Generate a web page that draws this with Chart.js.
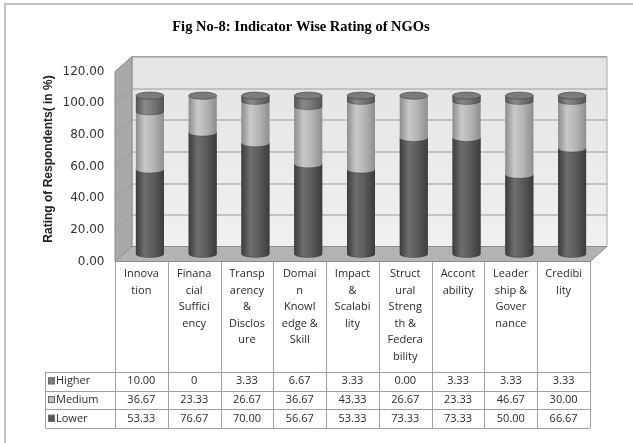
<!DOCTYPE html>
<html>
<head>
<meta charset="utf-8">
<script src="https://cdn.jsdelivr.net/npm/chart.js@4.4.1/dist/chart.umd.min.js"></script>
<style>
  html, body { margin: 0; padding: 0; background: #fff; }
  #wrap { width: 633px; height: 443px; }
</style>
</head>
<body>
<div id="wrap"><canvas id="chart" width="633" height="443"></canvas></div>
<script>
// data
const categories = [
  ["Innova", "tion"],
  ["Finana", "cial", "Suffici", "ency"],
  ["Transp", "arency", "&", "Disclos", "ure"],
  ["Domai", "n", "Knowl", "edge &", "Skill"],
  ["Impact", "&", "Scalabi", "lity"],
  ["Struct", "ural", "Streng", "th &", "Federa", "bility"],
  ["Accont", "ability"],
  ["Leader", "ship &", "Gover", "nance"],
  ["Credibi", "lity"]
];
const higher = ["10.00", "0", "3.33", "6.67", "3.33", "0.00", "3.33", "3.33", "3.33"];
const medium = ["36.67", "23.33", "26.67", "36.67", "43.33", "26.67", "23.33", "46.67", "30.00"];
const lower  = ["53.33", "76.67", "70.00", "56.67", "53.33", "73.33", "73.33", "50.00", "66.67"];
const yTicks = [0, 20, 40, 60, 80, 100, 120];

const title = "Fig No-8: Indicator Wise Rating of NGOs";
const yTitle = "Rating of Respondents( in %)";

// half depth of the 3d box
const DX = 8.5, DY = 7.5, RY = 3.5;

const colors = {
  Lower:  { solid: "#5a5a5a", edge: "#3c3c3c", hi: "#6e6e6e", key: "#555555" },
  Medium: { solid: "#b3b3b3", edge: "#8e8e8e", hi: "#c8c8c8", key: "#c0c0c0" },
  Higher: { solid: "#747474", edge: "#545454", hi: "#8a8a8a", key: "#808080" }
};

function cylFill(ctx, x, w, c) {
  const g = ctx.createLinearGradient(x - w / 2, 0, x + w / 2, 0);
  g.addColorStop(0, c.edge);
  g.addColorStop(0.32, c.hi);
  g.addColorStop(0.65, c.solid);
  g.addColorStop(1, c.edge);
  return g;
}

function poly(ctx, pts, fill, stroke) {
  ctx.beginPath();
  pts.forEach((p, i) => i ? ctx.lineTo(p[0], p[1]) : ctx.moveTo(p[0], p[1]));
  ctx.closePath();
  if (fill) { ctx.fillStyle = fill; ctx.fill(); }
  if (stroke) { ctx.strokeStyle = stroke; ctx.stroke(); }
}

const boxPlugin = {
  id: "box3d",
  beforeDraw(chart) {
    const ctx = chart.ctx;
    ctx.save();
    ctx.strokeStyle = "#c4c4c4";
    ctx.lineWidth = 2;
    ctx.strokeRect(5, 4, 700, 500);
    ctx.fillStyle = "#000";
    ctx.font = "bold 14.5px 'Liberation Serif'";
    ctx.textAlign = "center";
    ctx.textBaseline = "middle";
    ctx.fillText(title, 301, 27);
    ctx.restore();
  },
  beforeDatasetsDraw(chart) {
    const { ctx, chartArea: a, scales: { y } } = chart;
    const y0 = y.getPixelForValue(0), yT = y.getPixelForValue(120);
    ctx.save();
    ctx.lineWidth = 1;
    // back wall
    const wg = ctx.createLinearGradient(0, yT - DY, 0, y0 - DY);
    wg.addColorStop(0, "#e4e4e4");
    wg.addColorStop(1, "#f0f0f0");
    poly(ctx, [[a.left + DX, yT - DY], [a.right + DX, yT - DY], [a.right + DX, y0 - DY], [a.left + DX, y0 - DY]], wg, "#a8a8a8");
    // side wall
    poly(ctx, [[a.left - DX, yT + DY], [a.left + DX, yT - DY], [a.left + DX, y0 - DY], [a.left - DX, y0 + DY]], "#a9a9a9", "#8c8c8c");
    // floor
    poly(ctx, [[a.left - DX, y0 + DY], [a.left + DX, y0 - DY], [a.right + DX, y0 - DY], [a.right - DX, y0 + DY]], "#b3b3b3", "#8c8c8c");
    // grid lines
    ctx.strokeStyle = "#9a9a9a";
    yTicks.forEach(v => {
      if (v === 0) return;
      const p = Math.round(y.getPixelForValue(v)) + 0.5;
      ctx.beginPath();
      ctx.moveTo(a.left - DX, p + DY);
      ctx.lineTo(a.left + DX, p - DY);
      ctx.lineTo(a.right + DX, p - DY);
      ctx.stroke();
    });
    ctx.restore();
  },
  afterDatasetsDraw(chart) {
    const ctx = chart.ctx;
    const names = ["Lower", "Medium", "Higher"];
    ctx.save();
    for (let j = 0; j < categories.length; j++) {
      names.forEach((name, d) => {
        const el = chart.getDatasetMeta(d).data[j];
        const x = el.x, w = el.width, top = el.y, base = el.base;
        if (Math.abs(base - top) < 0.5) return;
        ctx.beginPath();
        ctx.moveTo(x - w / 2, top);
        ctx.lineTo(x - w / 2, base);
        ctx.ellipse(x, base, w / 2, RY, 0, Math.PI, 0, true);
        ctx.lineTo(x + w / 2, top);
        ctx.closePath();
        ctx.fillStyle = cylFill(ctx, x, w, colors[name]);
        ctx.fill();
        ctx.beginPath();
        ctx.ellipse(x, base, w / 2, RY, 0, Math.PI, 0, true);
        ctx.strokeStyle = "rgba(0,0,0,0.3)";
        ctx.lineWidth = 0.8;
        ctx.stroke();
      });
      // cap
      const el = chart.getDatasetMeta(2).data[j];
      ctx.beginPath();
      ctx.ellipse(el.x, el.y, el.width / 2, RY, 0, 0, Math.PI * 2);
      ctx.fillStyle = "#7c7c7c";
      ctx.fill();
      ctx.strokeStyle = "#4e4e4e";
      ctx.lineWidth = 0.8;
      ctx.stroke();
    }
    ctx.restore();
  },
  afterDraw(chart) {
    const { ctx, chartArea: a, scales: { y } } = chart;
    const n = categories.length;
    const colW = (a.right - a.left) / n;
    const L = a.left - DX, R = a.right - DX;
    const yHead = y.getPixelForValue(0) + DY;
    const rowTop = yHead + 110.5, rowH = 18.7;
    const keyL = 45.5;
    ctx.save();
    ctx.strokeStyle = "#a0a0a0";
    ctx.lineWidth = 1;
    ctx.beginPath();
    for (let k = 0; k <= n; k++) {
      const xx = Math.round(L + k * colW) + 0.5;
      ctx.moveTo(xx, yHead);
      ctx.lineTo(xx, rowTop + 3 * rowH);
    }
    for (let r = 0; r <= 3; r++) {
      const yy = Math.round(rowTop + r * rowH) + 0.5;
      ctx.moveTo(keyL, yy);
      ctx.lineTo(R, yy);
    }
    ctx.moveTo(keyL, rowTop);
    ctx.lineTo(keyL, rowTop + 3 * rowH);
    ctx.stroke();

    ctx.fillStyle = "#2a2a2a";
    ctx.font = "11px 'Open Sans'";
    ctx.textAlign = "center";
    ctx.textBaseline = "middle";
    categories.forEach((lines, j) => {
      const cx = L + (j + 0.5) * colW;
      lines.forEach((t, i) => ctx.fillText(t, cx, yHead + 12.5 + i * 16.5));
    });
    const rows = [["Higher", higher], ["Medium", medium], ["Lower", lower]];
    rows.forEach(([name, vals], r) => {
      const cy = rowTop + (r + 0.5) * rowH;
      vals.forEach((v, j) => {
        ctx.textAlign = "center";
        ctx.fillStyle = "#2a2a2a";
        ctx.fillText(v, L + (j + 0.5) * colW, cy);
      });
      ctx.fillStyle = colors[name].key;
      ctx.fillRect(48, cy - 4, 7, 7);
      ctx.strokeStyle = "#6a6a6a";
      ctx.strokeRect(48.5, cy - 3.5, 6, 6);
      ctx.fillStyle = "#2a2a2a";
      ctx.textAlign = "left";
      ctx.fillText(name, 56, cy);
    });
    ctx.restore();
  }
};

const num = a => a.map(Number);

new Chart(document.getElementById("chart"), {
  type: "bar",
  data: {
    labels: categories,
    datasets: [
      { label: "Lower", data: num(lower), backgroundColor: colors.Lower.solid },
      { label: "Medium", data: num(medium), backgroundColor: colors.Medium.solid },
      { label: "Higher", data: num(higher), backgroundColor: colors.Higher.solid }
    ]
  },
  options: {
    responsive: false,
    animation: false,
    layout: { padding: { top: 64, bottom: 189, left: 0, right: 34.5 } },
    datasets: { bar: { barPercentage: 0.53, categoryPercentage: 1 } },
    plugins: { legend: { display: false }, tooltip: { enabled: false } },
    scales: {
      x: { stacked: true, display: false },
      y: {
        stacked: true,
        min: 0,
        max: 120,
        afterFit: s => { s.width = 123.5; },
        afterBuildTicks: s => { s.ticks = yTicks.map(v => ({ value: v })); },
        border: { display: false },
        grid: { display: false, drawTicks: false },
        ticks: {
          padding: 19,
          labelOffset: 7.5,
          color: "#333",
          font: { family: "'DejaVu Sans'", size: 12 },
          callback: v => v.toFixed(2)
        },
        title: {
          display: true,
          text: yTitle,
          color: "#222",
          font: { family: "'Liberation Sans'", size: 12, weight: "bold" },
          padding: { top: 41, bottom: 0 }
        }
      }
    }
  },
  plugins: [boxPlugin]
});
</script>
</body>
</html>
